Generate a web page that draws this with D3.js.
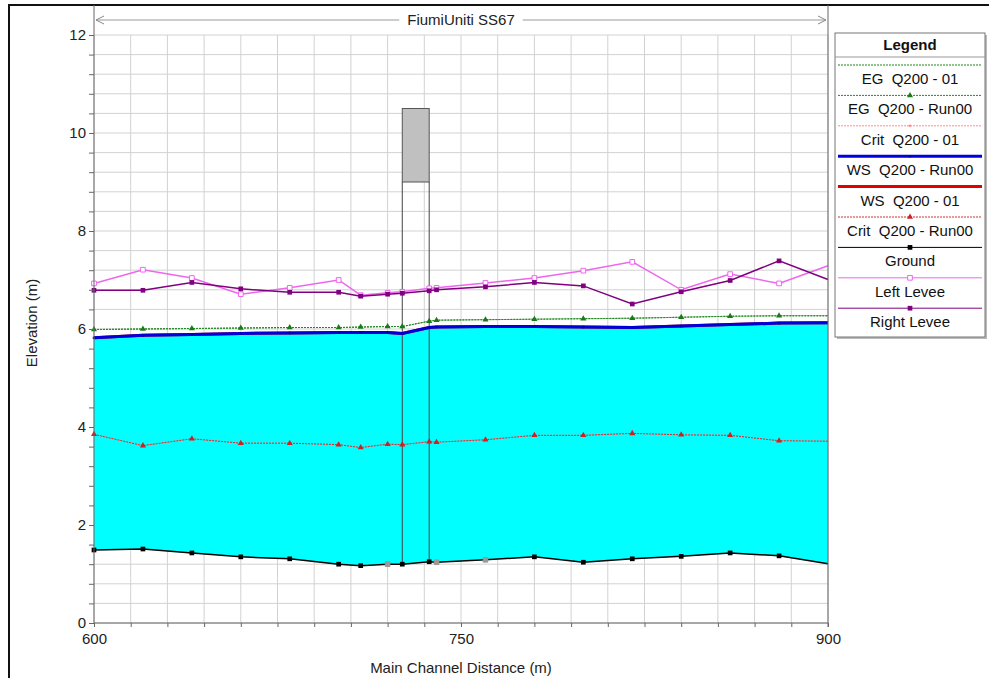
<!DOCTYPE html>
<html>
<head>
<meta charset="utf-8">
<script src="https://cdn.jsdelivr.net/npm/d3@7"></script>
<style>
  html, body { margin: 0; padding: 0; background: #fff; }
  svg { display: block; font-family: "Liberation Sans", Arial, sans-serif; }
  text { white-space: pre; }
</style>
</head>
<body>
<svg id="chart" width="989" height="678"></svg>
<script>
// ---------- data ----------
const stations   = [600, 620, 640, 660, 680, 700, 709, 720, 726, 737, 740, 760, 780, 800, 820, 840, 860, 880, 900];
const interpolatedStations = [720, 740, 760];
const ground     = [1.49, 1.51, 1.43, 1.35, 1.31, 1.20, 1.17, 1.20, 1.20, 1.25, 1.24, 1.29, 1.35, 1.24, 1.31, 1.36, 1.43, 1.37, 1.21];
const wsRun00    = [5.82, 5.87, 5.89, 5.91, 5.92, 5.93, 5.93, 5.93, 5.91, 6.03, 6.04, 6.05, 6.05, 6.04, 6.03, 6.06, 6.09, 6.12, 6.13];
const ws01       = [5.82, 5.87, 5.89, 5.91, 5.92, 5.93, 5.93, 5.93, 5.91, 6.03, 6.04, 6.05, 6.05, 6.04, 6.03, 6.06, 6.09, 6.12, 6.13];
const egRun00    = [5.99, 6.00, 6.01, 6.02, 6.03, 6.03, 6.04, 6.05, 6.05, 6.16, 6.18, 6.19, 6.20, 6.21, 6.22, 6.24, 6.26, 6.27, 6.27];
const eg01       = [5.99, 6.00, 6.01, 6.02, 6.03, 6.03, 6.04, 6.05, 6.05, 6.16, 6.18, 6.19, 6.20, 6.21, 6.22, 6.24, 6.26, 6.27, 6.27];
const critRun00  = [3.85, 3.62, 3.76, 3.67, 3.67, 3.64, 3.58, 3.65, 3.64, 3.70, 3.69, 3.74, 3.83, 3.83, 3.87, 3.84, 3.83, 3.72, 3.71];
const crit01     = [3.85, 3.62, 3.76, 3.67, 3.67, 3.64, 3.58, 3.65, 3.64, 3.70, 3.69, 3.74, 3.83, 3.83, 3.87, 3.84, 3.83, 3.72, 3.71];
const leftLevee  = [6.93, 7.21, 7.04, 6.71, 6.84, 7.00, 6.69, 6.74, 6.76, 6.83, 6.84, 6.94, 7.04, 7.19, 7.37, 6.80, 7.12, 6.93, 7.29];
const rightLevee = [6.79, 6.79, 6.95, 6.82, 6.75, 6.75, 6.67, 6.71, 6.73, 6.78, 6.80, 6.86, 6.95, 6.88, 6.51, 6.76, 6.99, 7.39, 7.01];
// bridge: upstream/downstream stations, low chord, high chord
const bridgeStations = [726, 737];
const bridgeLowChord = 9.0;
const bridgeHighChord = 10.5;

const xDomain = [600, 900];
const yDomain = [0, 12];
const xTickLabels = [600, 750, 900];
const yTickLabels = [0, 2, 4, 6, 8, 10, 12];
const xGridStep = 15;
const yGridStep = 0.4;

const title = "FiumiUniti SS67";
const xLabel = "Main Channel Distance (m)";
const yLabel = "Elevation (m)";
const legendTitle = "Legend";
const legendNames = ["EG  Q200 - 01", "EG  Q200 - Run00", "Crit  Q200 - 01", "WS  Q200 - Run00",
                     "WS  Q200 - 01", "Crit  Q200 - Run00", "Ground", "Left Levee", "Right Levee"];

// ---------- drawing ----------
const svg = d3.select("#chart");
const x = d3.scaleLinear().domain(xDomain).range([94, 828]);
const y = d3.scaleLinear().domain(yDomain).range([623, 35]);
const FS = 15;

// outer frame
svg.append("rect").attr("x", 9).attr("y", 5).attr("width", 1000).attr("height", 700)
  .attr("fill", "none").attr("stroke", "#111").attr("stroke-width", 2);

const xGrid = d3.range(0, Math.round((xDomain[1] - xDomain[0]) / xGridStep) + 1).map(i => xDomain[0] + i * xGridStep);
const yGrid = d3.range(0, Math.round((yDomain[1] - yDomain[0]) / yGridStep) + 1).map(i => +(yDomain[0] + i * yGridStep).toFixed(2));

// gridlines
const grid = svg.append("g");
grid.selectAll("line.h").data(yGrid).join("line")
  .attr("x1", x(xDomain[0])).attr("x2", x(xDomain[1]))
  .attr("y1", d => y(d)).attr("y2", d => y(d))
  .attr("stroke", "#d2d2d2").attr("stroke-width", 1);
grid.selectAll("line.v").data(xGrid).join("line")
  .attr("x1", d => x(d)).attr("x2", d => x(d))
  .attr("y1", y(yDomain[0])).attr("y2", y(yDomain[1]))
  .attr("stroke", "#d2d2d2").attr("stroke-width", 1);

// water fill
const rows = stations.map((s, i) => ({s, g: ground[i], ws: wsRun00[i]}));
svg.append("path").datum(rows)
  .attr("fill", "#00ffff")
  .attr("d", d3.area().x(d => x(d.s)).y0(d => y(d.g)).y1(d => y(d.ws)));

// bridge
const bridge = svg.append("g");
bridge.append("rect")
  .attr("x", x(bridgeStations[0])).attr("y", y(bridgeHighChord))
  .attr("width", x(bridgeStations[1]) - x(bridgeStations[0]))
  .attr("height", y(bridgeLowChord) - y(bridgeHighChord))
  .attr("fill", "#c0c0c0").attr("stroke", "#555").attr("stroke-width", 1);
bridgeStations.forEach(s => {
  const gi = stations.indexOf(s);
  bridge.append("line").attr("x1", x(s)).attr("x2", x(s))
    .attr("y1", y(bridgeLowChord)).attr("y2", y(ground[gi]))
    .attr("stroke", "#444").attr("stroke-width", 1);
});

// series lines
const lineGen = d3.line().x(d => x(d[0])).y(d => y(d[1]));
function series(vals, color, width, dash) {
  const pts = stations.map((s, i) => [s, vals[i]]);
  svg.append("path").datum(pts).attr("d", lineGen)
    .attr("fill", "none").attr("stroke", color).attr("stroke-width", width)
    .attr("stroke-dasharray", dash || null);
  return pts;
}
const markerPts = (pts) => pts.filter(p => p[0] < xDomain[1]);
const triangle = d3.symbol().type(d3.symbolTriangle).size(16);
const square = d3.symbol().type(d3.symbolSquare).size(22);

function markers(pts, shape, fill, stroke, greyForInterp) {
  svg.append("g").selectAll("path").data(markerPts(pts)).join("path")
    .attr("transform", d => `translate(${x(d[0])},${y(d[1])})`)
    .attr("d", shape)
    .attr("fill", d => (greyForInterp && interpolatedStations.includes(d[0])) ? (fill === "none" ? "none" : "#999") : fill)
    .attr("stroke", d => (greyForInterp && interpolatedStations.includes(d[0])) ? "#999" : stroke)
    .attr("stroke-width", 1);
}

// crit
series(crit01, "#ff8c8c", 1, "2,1");
const cR = series(critRun00, "#c83030", 1, "2,1");
markers(cR, triangle, "#d02020", "none", false);
// WS
series(ws01, "#e00000", 3);
const wR = series(wsRun00, "#0000dd", 3);
markers(wR, d3.symbol().type(d3.symbolSquare).size(6), "#0000aa", "none", false);
// EG
series(eg01, "#1a8a1a", 1, "2,1");
const eR = series(egRun00, "#228b22", 1, "2,1");
markers(eR, triangle, "#1a7a1a", "none", false);
// ground
const gP = series(ground, "#000", 1.5);
markers(gP, square, "#000", "none", true);
// levees
const lP = series(leftLevee, "#ee66ee", 1.5);
markers(lP, square, "#fff", "#ee66ee", false);
const rP = series(rightLevee, "#800080", 1.5);
markers(rP, square, "#800080", "none", false);

// axes
const axisColor = "#666";
const yAxis = d3.axisLeft(y).tickValues(yGrid).tickSize(5)
  .tickFormat(d => yTickLabels.includes(d) ? d : "");
const gy = svg.append("g").attr("transform", `translate(${x(xDomain[0])},0)`).call(yAxis);
gy.select(".domain").remove();
gy.selectAll(".tick line").attr("stroke", axisColor);
gy.selectAll(".tick text").attr("font-size", FS).attr("fill", "#222")
  .attr("font-family", "Liberation Sans, Arial, sans-serif");

const xAxis = d3.axisBottom(x).tickValues(xGrid).tickSize(4)
  .tickFormat(d => xTickLabels.includes(d) ? d : "");
const gx = svg.append("g").attr("transform", `translate(0,${y(yDomain[0])})`).call(xAxis);
gx.select(".domain").remove();
gx.selectAll(".tick line").attr("stroke", axisColor);
gx.selectAll(".tick text").attr("font-size", FS).attr("fill", "#222").attr("dy", "0.95em")
  .attr("font-family", "Liberation Sans, Arial, sans-serif");

// axis lines (plot box sides)
svg.append("line").attr("x1", x(xDomain[0])).attr("x2", x(xDomain[1]))
  .attr("y1", y(yDomain[0])).attr("y2", y(yDomain[0])).attr("stroke", axisColor);
svg.append("line").attr("x1", x(xDomain[0])).attr("x2", x(xDomain[0]))
  .attr("y1", 5).attr("y2", y(yDomain[0])).attr("stroke", axisColor);
svg.append("line").attr("x1", x(xDomain[1])).attr("x2", x(xDomain[1]))
  .attr("y1", 5).attr("y2", y(yDomain[0]) + 4).attr("stroke", axisColor);

// title arrow line
const arrowY = 20;
svg.append("line").attr("x1", x(xDomain[0]) + 2).attr("x2", x(xDomain[1]) - 2)
  .attr("y1", arrowY).attr("y2", arrowY).attr("stroke", "#999");
svg.append("path").attr("d", `M${x(xDomain[0]) + 10},${arrowY - 4} L${x(xDomain[0]) + 2},${arrowY} L${x(xDomain[0]) + 10},${arrowY + 4}`)
  .attr("fill", "none").attr("stroke", "#888");
svg.append("path").attr("d", `M${x(xDomain[1]) - 10},${arrowY - 4} L${x(xDomain[1]) - 2},${arrowY} L${x(xDomain[1]) - 10},${arrowY + 4}`)
  .attr("fill", "none").attr("stroke", "#888");
const titleBg = svg.append("rect").attr("fill", "#fff");
const tt = svg.append("text").attr("x", 461).attr("y", 25).attr("text-anchor", "middle")
  .attr("font-size", FS).attr("fill", "#222").text(title);
const bb = tt.node().getBBox();
titleBg.attr("x", bb.x - 8).attr("y", bb.y).attr("width", bb.width + 16).attr("height", bb.height);

// axis titles
svg.append("text").attr("x", 461).attr("y", 673).attr("text-anchor", "middle")
  .attr("font-size", FS).attr("fill", "#222").text(xLabel);
svg.append("text").attr("transform", "translate(37,323) rotate(-90)").attr("text-anchor", "middle")
  .attr("font-size", FS).attr("fill", "#222").text(yLabel);

// legend
const lg = svg.append("g");
const lx = 835, ly = 33, lw = 150, lh = 304;
lg.append("rect").attr("x", lx + 2).attr("y", ly + 2).attr("width", lw).attr("height", lh).attr("fill", "#bbb");
lg.append("rect").attr("x", lx).attr("y", ly).attr("width", lw).attr("height", lh)
  .attr("fill", "#fff").attr("stroke", "#777");
lg.append("text").attr("x", lx + lw / 2).attr("y", 50).attr("text-anchor", "middle")
  .attr("font-size", FS).attr("font-weight", "bold").attr("fill", "#111").text(legendTitle);
lg.append("line").attr("x1", lx).attr("x2", lx + lw).attr("y1", 57).attr("y2", 57).attr("stroke", "#999");

const legendStyles = [
  {color: "#1a8a1a", w: 1, dash: "2,1", marker: null},
  {color: "#228b22", w: 1, dash: "2,1", marker: "tri", mfill: "#1a7a1a"},
  {color: "#ff8c8c", w: 1, dash: "2,1", marker: "dot", mfill: "#ff8c8c"},
  {color: "#0000dd", w: 3, dash: null, marker: "dot", mfill: "#0000aa"},
  {color: "#e00000", w: 3, dash: null, marker: null},
  {color: "#d03030", w: 1, dash: "2,1", marker: "tri", mfill: "#d02020"},
  {color: "#000", w: 1, dash: null, marker: "sq", mfill: "#000"},
  {color: "#ee66ee", w: 1, dash: null, marker: "osq", mfill: "#fff"},
  {color: "#800080", w: 1, dash: null, marker: "sq", mfill: "#800080"}
];
legendNames.forEach((name, i) => {
  const yy = 65 + i * 30.4;
  const st = legendStyles[i];
  lg.append("line").attr("x1", lx + 3).attr("x2", lx + lw - 3).attr("y1", yy).attr("y2", yy)
    .attr("stroke", st.color).attr("stroke-width", st.w).attr("stroke-dasharray", st.dash);
  const cx = lx + lw / 2;
  if (st.marker) {
    let shape = st.marker === "tri" ? triangle : st.marker === "dot" ? d3.symbol().type(d3.symbolSquare).size(5) : square;
    lg.append("path").attr("transform", `translate(${cx},${yy})`).attr("d", shape)
      .attr("fill", st.mfill).attr("stroke", st.marker === "osq" ? st.color : "none");
  }
  lg.append("text").attr("x", cx).attr("y", yy + 19).attr("text-anchor", "middle")
    .attr("font-size", FS).attr("fill", "#111").text(name);
});
</script>
</body>
</html>
